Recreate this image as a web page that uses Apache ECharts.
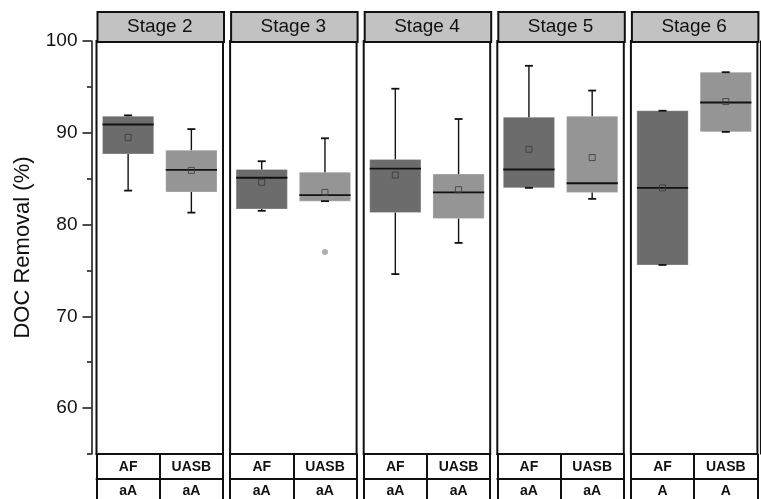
<!DOCTYPE html>
<html>
<head>
<meta charset="utf-8">
<script src="https://cdn.jsdelivr.net/npm/echarts@6/dist/echarts.min.js"></script>
<style>
  html, body { margin: 0; padding: 0; background: #fff; }
  #chart { width: 761px; height: 499px; }
</style>
</head>
<body>
<div id="chart"></div>
<script>
// Stage panels, reactors and significance letters
const stages = ['Stage 2', 'Stage 3', 'Stage 4', 'Stage 5', 'Stage 6'];
const reactors = ['AF', 'UASB'];
const letters = [['aA', 'aA'], ['aA', 'aA'], ['aA', 'aA'], ['aA', 'aA'], ['A', 'A']];

// Box statistics per stage: [min, Q1, median, Q3, max]
const afBox = [
  [83.7, 87.7, 90.9, 91.8, 91.9],
  [81.5, 81.7, 85.1, 86.0, 86.9],
  [74.6, 81.3, 86.1, 87.1, 94.8],
  [84.0, 84.0, 86.0, 91.7, 97.3],
  [75.6, 75.6, 84.0, 92.4, 92.4]
];
const uasbBox = [
  [81.3, 83.55, 85.95, 88.1, 90.4],
  [82.55, 82.55, 83.2, 85.7, 89.4],
  [78.0, 80.65, 83.5, 85.5, 91.5],
  [82.8, 83.5, 84.5, 91.8, 94.6],
  [90.1, 90.1, 93.3, 96.6, 96.6]
];
const afMean = [89.5, 84.6, 85.4, 88.2, 84.0];
const uasbMean = [85.9, 83.5, 83.8, 87.3, 93.4];
// Outliers as [stageIndex, reactorIndex, value]
const outliers = [[1, 1, 77.0]];

// Y axis scale and ticks
const yMin = 55, yMax = 100;
const yMajorTicks = [60, 70, 80, 90, 100];
const yMinorTicks = [55, 65, 75, 85, 95];

// Layout
const PANEL_LEFT0 = 96.5, PANEL_STEP = 133.6, PANEL_W = 126.5;
const PLOT_TOP = 41, PLOT_BOTTOM = 454, HEADER_TOP = 11, ROW_H = 25;
const boxColors = ['#6c6c6c', '#959595'];
const FONT = '"Liberation Sans", Arial, Helvetica, sans-serif';
const INK = '#111';

const grids = [], xAxes = [], yAxes = [], series = [], graphics = [];

function renderBox(params, api) {
  const x = api.value(0);
  const lo = api.coord([x, api.value(1)]);
  const q1 = api.coord([x, api.value(2)]);
  const med = api.coord([x, api.value(3)]);
  const q3 = api.coord([x, api.value(4)]);
  const hi = api.coord([x, api.value(5)]);
  const bw = api.size([1, 0])[0] * 0.81;
  const cx = lo[0];
  const cap = 4;
  const line = { stroke: INK, lineWidth: 1.4 };
  const thick = { stroke: INK, lineWidth: 1.8 };
  return {
    type: 'group',
    children: [
      { type: 'rect', shape: { x: cx - bw / 2, y: q3[1], width: bw, height: q1[1] - q3[1] },
        style: { fill: boxColors[x], stroke: 'rgba(255,255,255,0.25)', lineWidth: 1 } },
      { type: 'line', shape: { x1: cx, y1: hi[1], x2: cx, y2: q3[1] }, style: line },
      { type: 'line', shape: { x1: cx, y1: q1[1], x2: cx, y2: lo[1] }, style: line },
      { type: 'line', shape: { x1: cx - cap, y1: hi[1], x2: cx + cap, y2: hi[1] }, style: thick },
      { type: 'line', shape: { x1: cx - cap, y1: lo[1], x2: cx + cap, y2: lo[1] }, style: thick },
      { type: 'line', shape: { x1: cx - bw / 2, y1: med[1], x2: cx + bw / 2, y2: med[1] }, style: thick }
    ]
  };
}

stages.forEach((stage, i) => {
  const left = PANEL_LEFT0 + i * PANEL_STEP;
  grids.push({
    left: left, width: PANEL_W, top: PLOT_TOP, height: PLOT_BOTTOM - PLOT_TOP,
    show: true, borderColor: INK, borderWidth: 2, backgroundColor: '#fff'
  });
  // reactor row of the table
  xAxes.push({
    type: 'category', gridIndex: i, data: reactors, position: 'bottom',
    boundaryGap: true,
    axisLine: { show: true, lineStyle: { color: INK, width: 2 } },
    axisTick: { show: true, interval: 0, length: 50, lineStyle: { color: INK, width: 2 } },
    axisLabel: { margin: 6, fontFamily: FONT, fontWeight: 'bold', fontSize: 14, color: INK }
  });
  // letter row of the table
  xAxes.push({
    type: 'category', gridIndex: i, data: letters[i], position: 'bottom', offset: ROW_H,
    boundaryGap: true,
    axisLine: { show: true, lineStyle: { color: INK, width: 2 } },
    axisTick: { show: false },
    axisLabel: { margin: 5, fontFamily: FONT, fontWeight: 'bold', fontSize: 14, color: INK }
  });
  const first = i === 0;
  yAxes.push({
    type: 'value', gridIndex: i, min: yMin, max: yMax, interval: 5,
    position: 'left', offset: first ? 5 : 0,
    show: first,
    name: first ? 'DOC Removal (%)' : '',
    nameLocation: 'middle', nameGap: 58,
    nameTextStyle: { fontFamily: FONT, fontSize: 22, color: INK },
    splitLine: { show: false },
    axisLine: { show: first, lineStyle: { color: INK, width: 1.5 } },
    axisTick: { show: first, length: 9, customValues: yMajorTicks, lineStyle: { color: INK, width: 1.5 } },
    axisLabel: { show: first, margin: 14, customValues: yMajorTicks, fontFamily: FONT, fontSize: 19, color: INK }
  });
  series.push({
    type: 'custom', xAxisIndex: 2 * i, yAxisIndex: i,
    renderItem: renderBox, clip: false, z: 2,
    encode: { x: 0, y: [1, 2, 3, 4, 5] },
    data: [[0].concat(afBox[i]), [1].concat(uasbBox[i])]
  });
  series.push({
    type: 'scatter', xAxisIndex: 2 * i, yAxisIndex: i, z: 5,
    symbol: 'rect', symbolSize: 6,
    itemStyle: { color: 'rgba(0,0,0,0)', borderColor: '#3a3a3a', borderWidth: 1 },
    data: [[0, afMean[i]], [1, uasbMean[i]]]
  });
  const out = outliers.filter(o => o[0] === i).map(o => [o[1], o[2]]);
  if (out.length) {
    series.push({
      type: 'scatter', xAxisIndex: 2 * i, yAxisIndex: i, z: 5,
      symbol: 'circle', symbolSize: 6,
      itemStyle: { color: '#9a9a9a' },
      data: out
    });
  }
  // stage header
  graphics.push({
    type: 'rect', left: left, top: HEADER_TOP,
    shape: { width: PANEL_W, height: PLOT_TOP - HEADER_TOP },
    style: { fill: '#c2c2c2', stroke: INK, lineWidth: 2 }
  });
  graphics.push({
    type: 'text', x: left + PANEL_W / 2, y: (HEADER_TOP + PLOT_TOP) / 2 + 1,
    style: { text: stage, fill: INK, font: '19px ' + FONT, textAlign: 'center', textVerticalAlign: 'middle' }
  });
});

// minor ticks on the first panel's axis
yAxes.push({
  type: 'value', gridIndex: 0, min: yMin, max: yMax, interval: 5, position: 'left', offset: 5,
  splitLine: { show: false },
  axisLine: { show: false },
  axisTick: { show: true, length: 4.5, customValues: yMinorTicks, lineStyle: { color: INK, width: 1.5 } },
  axisLabel: { show: false }
});
// right edge line beside the last panel
yAxes.push({
  type: 'value', gridIndex: stages.length - 1, min: yMin, max: yMax, position: 'right', offset: 3,
  splitLine: { show: false },
  axisLine: { show: true, lineStyle: { color: INK, width: 1.2 } },
  axisTick: { show: false }, axisLabel: { show: false }
});

const chart = echarts.init(document.getElementById('chart'), null, { renderer: 'canvas' });
chart.setOption({
  backgroundColor: '#fff',
  animation: false,
  grid: grids,
  xAxis: xAxes,
  yAxis: yAxes,
  series: series,
  graphic: graphics
});
</script>
</body>
</html>
